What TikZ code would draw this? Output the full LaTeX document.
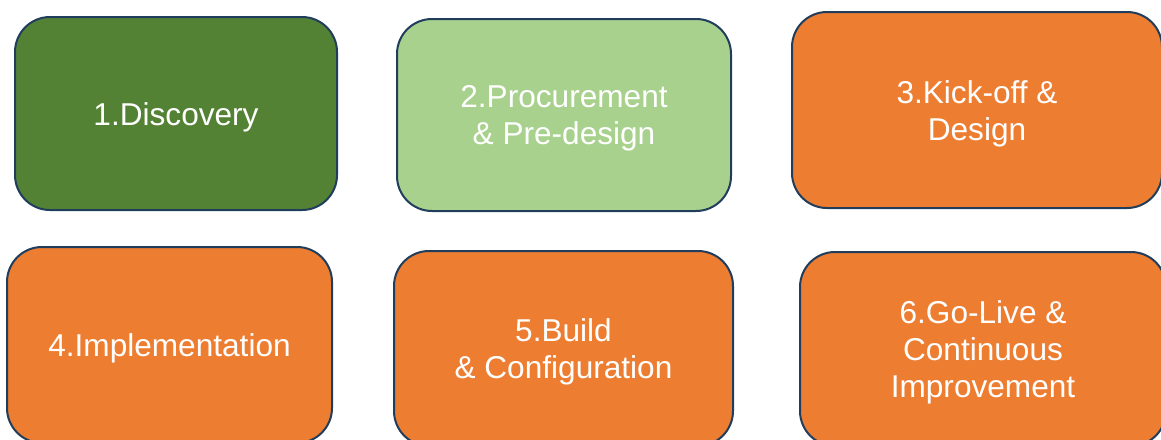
\documentclass[tikz,border=0pt]{standalone}
\usepackage{fontspec}
\setmainfont{Liberation Sans}
\definecolor{phasedark}{HTML}{548235}
\definecolor{phaselight}{HTML}{A9D18E}
\definecolor{phaseorange}{HTML}{ED7D31}
\definecolor{phaseedge}{HTML}{203D5C}
\begin{document}
\begin{tikzpicture}[x=1pt,y=-1pt,
  phase/.style={draw=phaseedge, line width=2pt, rounded corners=35pt,
    inner sep=0pt, align=center, text=white,
    font=\fontsize{31.6}{37}\selectfont},
  done/.style={phase, fill=phasedark},
  active/.style={phase, fill=phaselight},
  todo/.style={phase, fill=phaseorange},
  lower/.style={yshift=-3.5pt}]
  \useasboundingbox (0,0) rectangle (1161,439);
  \clip (0,0) rectangle (1161,439);
  % each phase box; the label is nudged a little below the geometric centre
  \node[done, minimum width=322pt, minimum height=193pt] (p1) at (176,113.5) {};
  \node[active, minimum width=334pt, minimum height=192pt] (p2) at (564,115) {};
  \node[todo, minimum width=370pt, minimum height=196pt] (p3) at (977,110) {};
  \node[todo, minimum width=325pt, minimum height=196pt] (p4) at (169.5,345) {};
  \node[todo, minimum width=339pt, minimum height=195pt] (p5) at (563.5,348.5) {};
  \node[todo, minimum width=366pt, minimum height=194pt] (p6) at (983,349) {};
  \tikzset{phasetext/.style={align=center, text=white, inner sep=0pt,
    font=\fontsize{31.6}{37}\selectfont, lower}}
  \node[phasetext] (t1) at (p1.center) {1.Discovery};
  \node[phasetext] (t2) at (p2.center) {2.Procurement\\ \& Pre-design};
  \node[phasetext] (t3) at (p3.center) {3.Kick-off \&\\Design};
  \node[phasetext] (t4) at (p4.center) {4.Implementation};
  \node[phasetext] (t5) at (p5.center) {5.Build\\ \& Configuration};
  \node[phasetext] (t6) at (p6.center) {6.Go-Live \&\\Continuous\\Improvement};
\end{tikzpicture}
\end{document}
